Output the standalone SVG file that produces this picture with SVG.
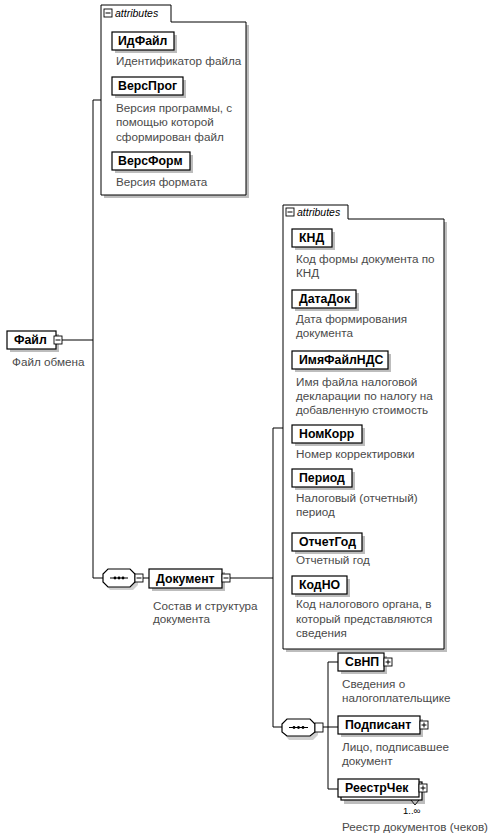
<svg xmlns="http://www.w3.org/2000/svg" width="504" height="836" viewBox="0 0 504 836">
<style>
.bg{fill:#fff}
.box{fill:#fff;stroke:#000;stroke-width:1.2}
.sh{fill:#bdbdbd}
.frame{fill:#fff;stroke:#000;stroke-width:1}
.name{font-family:"Liberation Sans",Arial,sans-serif;font-weight:bold;font-size:12.3px;fill:#000}
.desc{font-family:"Liberation Sans",Arial,sans-serif;font-size:11.7px;fill:#4a4a4a}
.attr{font-family:"Liberation Sans",Arial,sans-serif;font-style:italic;font-size:10.5px;fill:#000}
.conn{fill:none;stroke:#000;stroke-width:1}
.ic{fill:#fff;stroke:#000;stroke-width:0.9}
.mult{font-family:"Liberation Sans",Arial,sans-serif;font-size:9.5px;fill:#000}
</style>
<defs>
<g id="minus"><rect class="ic" x="0" y="0" width="8" height="8"/><path d="M1.5,4H6.5" stroke="#000" stroke-width="1"/></g>
<g id="plus"><rect class="ic" x="0" y="0" width="8" height="8"/><path d="M1.5,4H6.5M4,1.5V6.5" stroke="#000" stroke-width="1"/></g>
</defs>
<rect class="bg" x="0" y="0" width="504" height="836"/>

<g id="connectors">
<path class="conn" d="M62,340H93"/>
<path class="conn" d="M101,100H93V578H103"/>
<path class="conn" d="M143,578H149"/>
<path class="conn" d="M230,578H273"/>
<path class="conn" d="M283,428H273V727H282"/>
<path class="conn" d="M323,727H338"/>
<path class="conn" d="M338,662H328V789H338"/>
</g>

<g id="attributes1">
<rect class="sh" x="104" y="25" width="145" height="173"/>
<path class="frame" d="M101,195V5H171V22H246V195Z"/>
<use href="#minus" x="104" y="9"/>
<text class="attr" x="115" y="17">attributes</text>
</g>
<g id="ИдФайл">
<rect class="sh" x="115" y="35" width="62" height="18"/>
<rect class="box" x="112" y="32" width="62" height="18"/>
<text class="name" x="118" y="45">ИдФайл</text>
<text class="desc" x="116" y="65">Идентификатор файла</text>
</g>
<g id="ВерсПрог">
<rect class="sh" x="115" y="80" width="71" height="18"/>
<rect class="box" x="112" y="77" width="71" height="18"/>
<text class="name" x="118" y="90">ВерсПрог</text>
<text class="desc" x="116" y="112">Версия программы, с</text>
<text class="desc" x="116" y="126">помощью которой</text>
<text class="desc" x="116" y="141">сформирован файл</text>
</g>
<g id="ВерсФорм">
<rect class="sh" x="115" y="155" width="78" height="18"/>
<rect class="box" x="112" y="152" width="78" height="18"/>
<text class="name" x="118" y="165">ВерсФорм</text>
<text class="desc" x="116" y="186">Версия формата</text>
</g>

<g id="Файл">
<rect class="sh" x="10" y="334" width="49" height="18"/>
<rect class="box" x="7" y="331" width="49" height="18"/>
<text class="name" x="14" y="344">Файл</text>
<use href="#minus" x="54" y="336"/>
<text class="desc" x="12" y="366">Файл обмена</text>
</g>

<g id="sequence1">
<path fill="#d0d0d0" d="M110,572H133L138,577V585L133,590H110L106,585V577Z"/>
<path class="box" d="M108,569H130L135,574V582L130,587H108L103,582V574Z"/>
<path d="M110,578H128" stroke="#000" stroke-width="1"/>
<circle cx="115" cy="578" r="1.4"/><circle cx="119" cy="578" r="1.4"/><circle cx="123" cy="578" r="1.4"/>
<use href="#minus" x="135" y="574"/>
</g>

<g id="Документ">
<rect class="sh" x="152" y="572" width="73" height="19"/>
<rect class="box" x="149" y="569" width="73" height="19"/>
<text class="name" x="156" y="583">Документ</text>
<use href="#minus" x="222" y="574"/>
<text class="desc" x="153" y="610">Состав и структура</text>
<text class="desc" x="153" y="623">документа</text>
</g>

<g id="attributes2">
<rect class="sh" x="286" y="222" width="161" height="430"/>
<path class="frame" d="M283,649V205H348V219H444V649Z"/>
<use href="#minus" x="286" y="208"/>
<text class="attr" x="297" y="216">attributes</text>
</g>
<g id="КНД">
<rect class="sh" x="295" y="232" width="40" height="18"/>
<rect class="box" x="292" y="229" width="40" height="18"/>
<text class="name" x="299" y="242">КНД</text>
<text class="desc" x="296" y="263">Код формы документа по</text>
<text class="desc" x="296" y="277">КНД</text>
</g>
<g id="ДатаДок">
<rect class="sh" x="295" y="293" width="64" height="18"/>
<rect class="box" x="292" y="290" width="64" height="18"/>
<text class="name" x="299" y="303">ДатаДок</text>
<text class="desc" x="296" y="323">Дата формирования</text>
<text class="desc" x="296" y="337">документа</text>
</g>
<g id="ИмяФайлНДС">
<rect class="sh" x="295" y="354" width="96" height="18"/>
<rect class="box" x="292" y="351" width="96" height="18"/>
<text class="name" x="299" y="364">ИмяФайлНДС</text>
<text class="desc" x="296" y="386">Имя файла налоговой</text>
<text class="desc" x="296" y="400">декларации по налогу на</text>
<text class="desc" x="296" y="414">добавленную стоимость</text>
</g>
<g id="НомКорр">
<rect class="sh" x="295" y="428" width="70" height="18"/>
<rect class="box" x="292" y="425" width="70" height="18"/>
<text class="name" x="299" y="438">НомКорр</text>
<text class="desc" x="296" y="458">Номер корректировки</text>
</g>
<g id="Период">
<rect class="sh" x="295" y="472" width="60" height="18"/>
<rect class="box" x="292" y="469" width="60" height="18"/>
<text class="name" x="299" y="482">Период</text>
<text class="desc" x="296" y="502">Налоговый (отчетный)</text>
<text class="desc" x="296" y="516">период</text>
</g>
<g id="ОтчетГод">
<rect class="sh" x="295" y="536" width="70" height="18"/>
<rect class="box" x="292" y="533" width="70" height="18"/>
<text class="name" x="299" y="546">ОтчетГод</text>
<text class="desc" x="296" y="564">Отчетный год</text>
</g>
<g id="КодНО">
<rect class="sh" x="295" y="579" width="55" height="18"/>
<rect class="box" x="292" y="576" width="55" height="18"/>
<text class="name" x="299" y="589">КодНО</text>
<text class="desc" x="296" y="608">Код налогового органа, в</text>
<text class="desc" x="296" y="623">который представляются</text>
<text class="desc" x="296" y="637">сведения</text>
</g>

<g id="sequence2">
<path fill="#d0d0d0" d="M289,722H313L318,727V735L313,740H289L285,735V727Z"/>
<path class="box" d="M287,719H310L315,724V732L310,736H287L282,732V724Z"/>
<path d="M289,727.5H308" stroke="#000" stroke-width="1"/>
<circle cx="294" cy="727.5" r="1.4"/><circle cx="298.5" cy="727.5" r="1.4"/><circle cx="303" cy="727.5" r="1.4"/>
<rect class="ic" x="315" y="723" width="8" height="9" fill="#eee"/>
</g>

<g id="СвНП">
<rect class="sh" x="341" y="656" width="46" height="18"/>
<rect class="box" x="338" y="653" width="46" height="18"/>
<text class="name" x="345" y="666">СвНП</text>
<use href="#plus" x="384" y="658"/>
<text class="desc" x="342" y="688">Сведения о</text>
<text class="desc" x="342" y="702">налогоплательщике</text>
</g>
<g id="Подписант">
<rect class="sh" x="341" y="719" width="82" height="18"/>
<rect class="box" x="338" y="716" width="82" height="18"/>
<text class="name" x="345" y="729">Подписант</text>
<use href="#plus" x="420" y="721"/>
<text class="desc" x="342" y="751">Лицо, подписавшее</text>
<text class="desc" x="342" y="765">документ</text>
</g>
<g id="РеестрЧек">
<rect class="sh" x="344" y="785" width="81" height="19"/>
<rect class="box" x="341" y="782" width="81" height="18"/>
<rect class="box" x="338" y="779" width="81" height="18"/>
<text class="name" x="345" y="792">РеестрЧек</text>
<use href="#plus" x="419" y="784"/>
<path d="M411,800L415,805L419,800" fill="none" stroke="#000" stroke-width="0.9"/>
<text class="mult" x="403" y="814">1..∞</text>
<text class="desc" x="342" y="831">Реестр документов (чеков)</text>
</g>
</svg>
